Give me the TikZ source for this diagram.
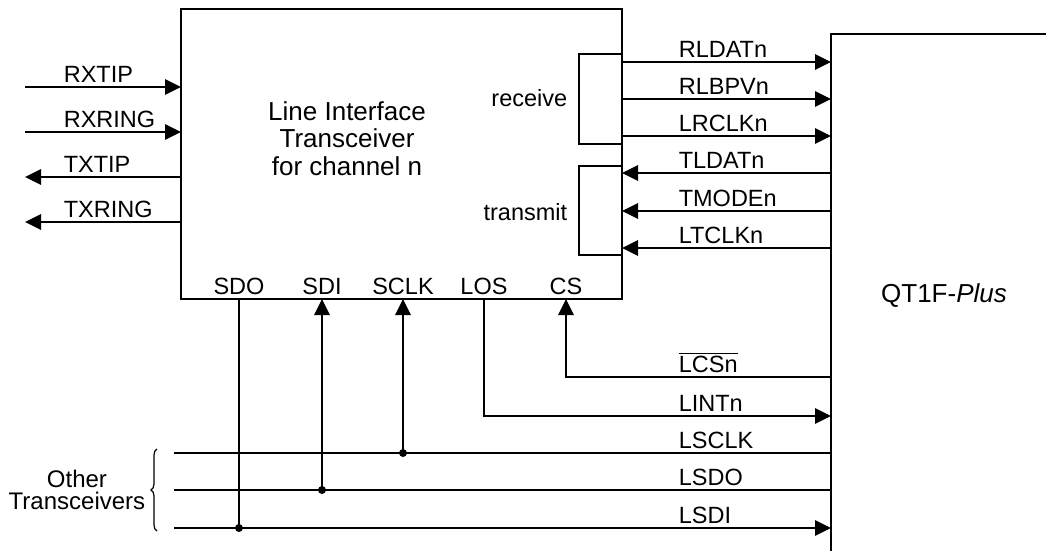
\documentclass[tikz,border=0pt]{standalone}
\usepackage{fontspec}
\setmainfont{Liberation Sans}
\usetikzlibrary{arrows.meta,decorations.pathreplacing}
\newcommand{\sigfont}{\fontsize{23.5}{26}\selectfont}
\newcommand{\litfont}{\fontsize{26}{27.3}\selectfont}
\newcommand{\barsig}[1]{\vbox{\hrule height 1.2pt\kern 2pt\hbox{#1}}}
\tikzset{
  box/.style={draw,inner sep=0pt,outer sep=0pt},
  tobox/.style={-{Triangle[length=16pt,width=15.5pt]}},
  frombox/.style={{Triangle[length=16pt,width=15.5pt]}-},
  lab/.style={anchor=base west,inner sep=0pt,font=\sigfont},
  pin/.style={anchor=base,inner sep=0pt,font=\sigfont},
  jdot/.style={circle,fill,inner sep=0pt,minimum size=8pt}
}

\begin{document}
\begin{tikzpicture}[x=1pt,y=-1pt,line width=1.6pt]
\clip (0,0) rectangle (1046,550);
\node[box,anchor=north west,minimum width=441pt,minimum height=290pt] (lit) at (181,9) {};
\node[box,anchor=north west,minimum width=400pt,minimum height=600pt] (qt) at (831,34) {};
\node[align=center,inner sep=0pt,font=\litfont] (littext) at (347,138.5) {Line Interface\\Transceiver\\for channel n};
\node[anchor=base,inner sep=0pt,font=\litfont] (qtname) at (944,302.7) {QT1F-\textit{Plus}};

\foreach \y/\name/\d in {87/RXTIP/tobox,132/RXRING/tobox,177/TXTIP/frombox,222/TXRING/frombox} {
  \coordinate (l\name) at (25,\y);
  \draw[\d] (l\name) -- (l\name -| lit.west);
  \node[lab] at (63,\y-4.5) {\name};
}
\foreach \y/\name/\d in {62/RLDATn/tobox,99/RLBPVn/tobox,136/LRCLKn/tobox,173/TLDATn/frombox,211/TMODEn/frombox,248/LTCLKn/frombox} {
  \draw[\d] (lit.east |- 0,\y) -- (qt.west |- 0,\y);
  \node[lab] at (678,\y-4.5) {\name};
}
\draw (lit.east |- 0,54) -- ++(-43,0) |- (lit.east |- 0,144);
\draw (lit.east |- 0,166) -- ++(-43,0) |- (lit.east |- 0,255);
\node[anchor=base east,inner sep=0pt,font=\sigfont] (rx) at (568,106) {receive};
\node[anchor=base east,inner sep=0pt,font=\sigfont] (tx) at (568,220) {transmit};

\foreach \x/\name in {239/SDO,322/SDI,403/SCLK,484/LOS,566/CS}
  \node[pin] (p\name) at (\x,294) {\name};

\foreach \y/\name/\d in {453/LSCLK/box,490/LSDO/box,528/LSDI/tobox} {
  \coordinate (b\name) at (174,\y);
  \draw[\d,draw=black] (b\name) -- (b\name -| qt.west);
  \node[lab] at (678,\y-4.5) {\name};
}
\node[jdot] (jsclk) at (pSCLK |- bLSCLK) {};
\node[jdot] (jsdi) at (pSDI |- bLSDO) {};
\node[jdot] (jsdo) at (pSDO |- bLSDI) {};
\draw[tobox] (jsclk.center) -- (jsclk |- lit.south);
\draw[tobox] (jsdi.center) -- (jsdi |- lit.south);
\draw (lit.south -| pSDO) -- (jsdo.center);
\draw[tobox] (lit.south -| pLOS) |- (qt.west |- 0,416);
\node[lab] at (678,411.5) {LINTn};
\draw[tobox] (qt.west |- 0,377) -| (lit.south -| pCS);
\node[lab] at (678,372.5) {\barsig{LCSn}};

\draw[line width=1.2pt,decorate,decoration={brace,amplitude=6pt}] (157,531) -- (157,449);
\node[align=center,anchor=east,inner sep=0pt,font={\fontsize{24}{22.3}\selectfont}] (others) at (146,490) {Other\\Transceivers};
\end{tikzpicture}
\end{document}
